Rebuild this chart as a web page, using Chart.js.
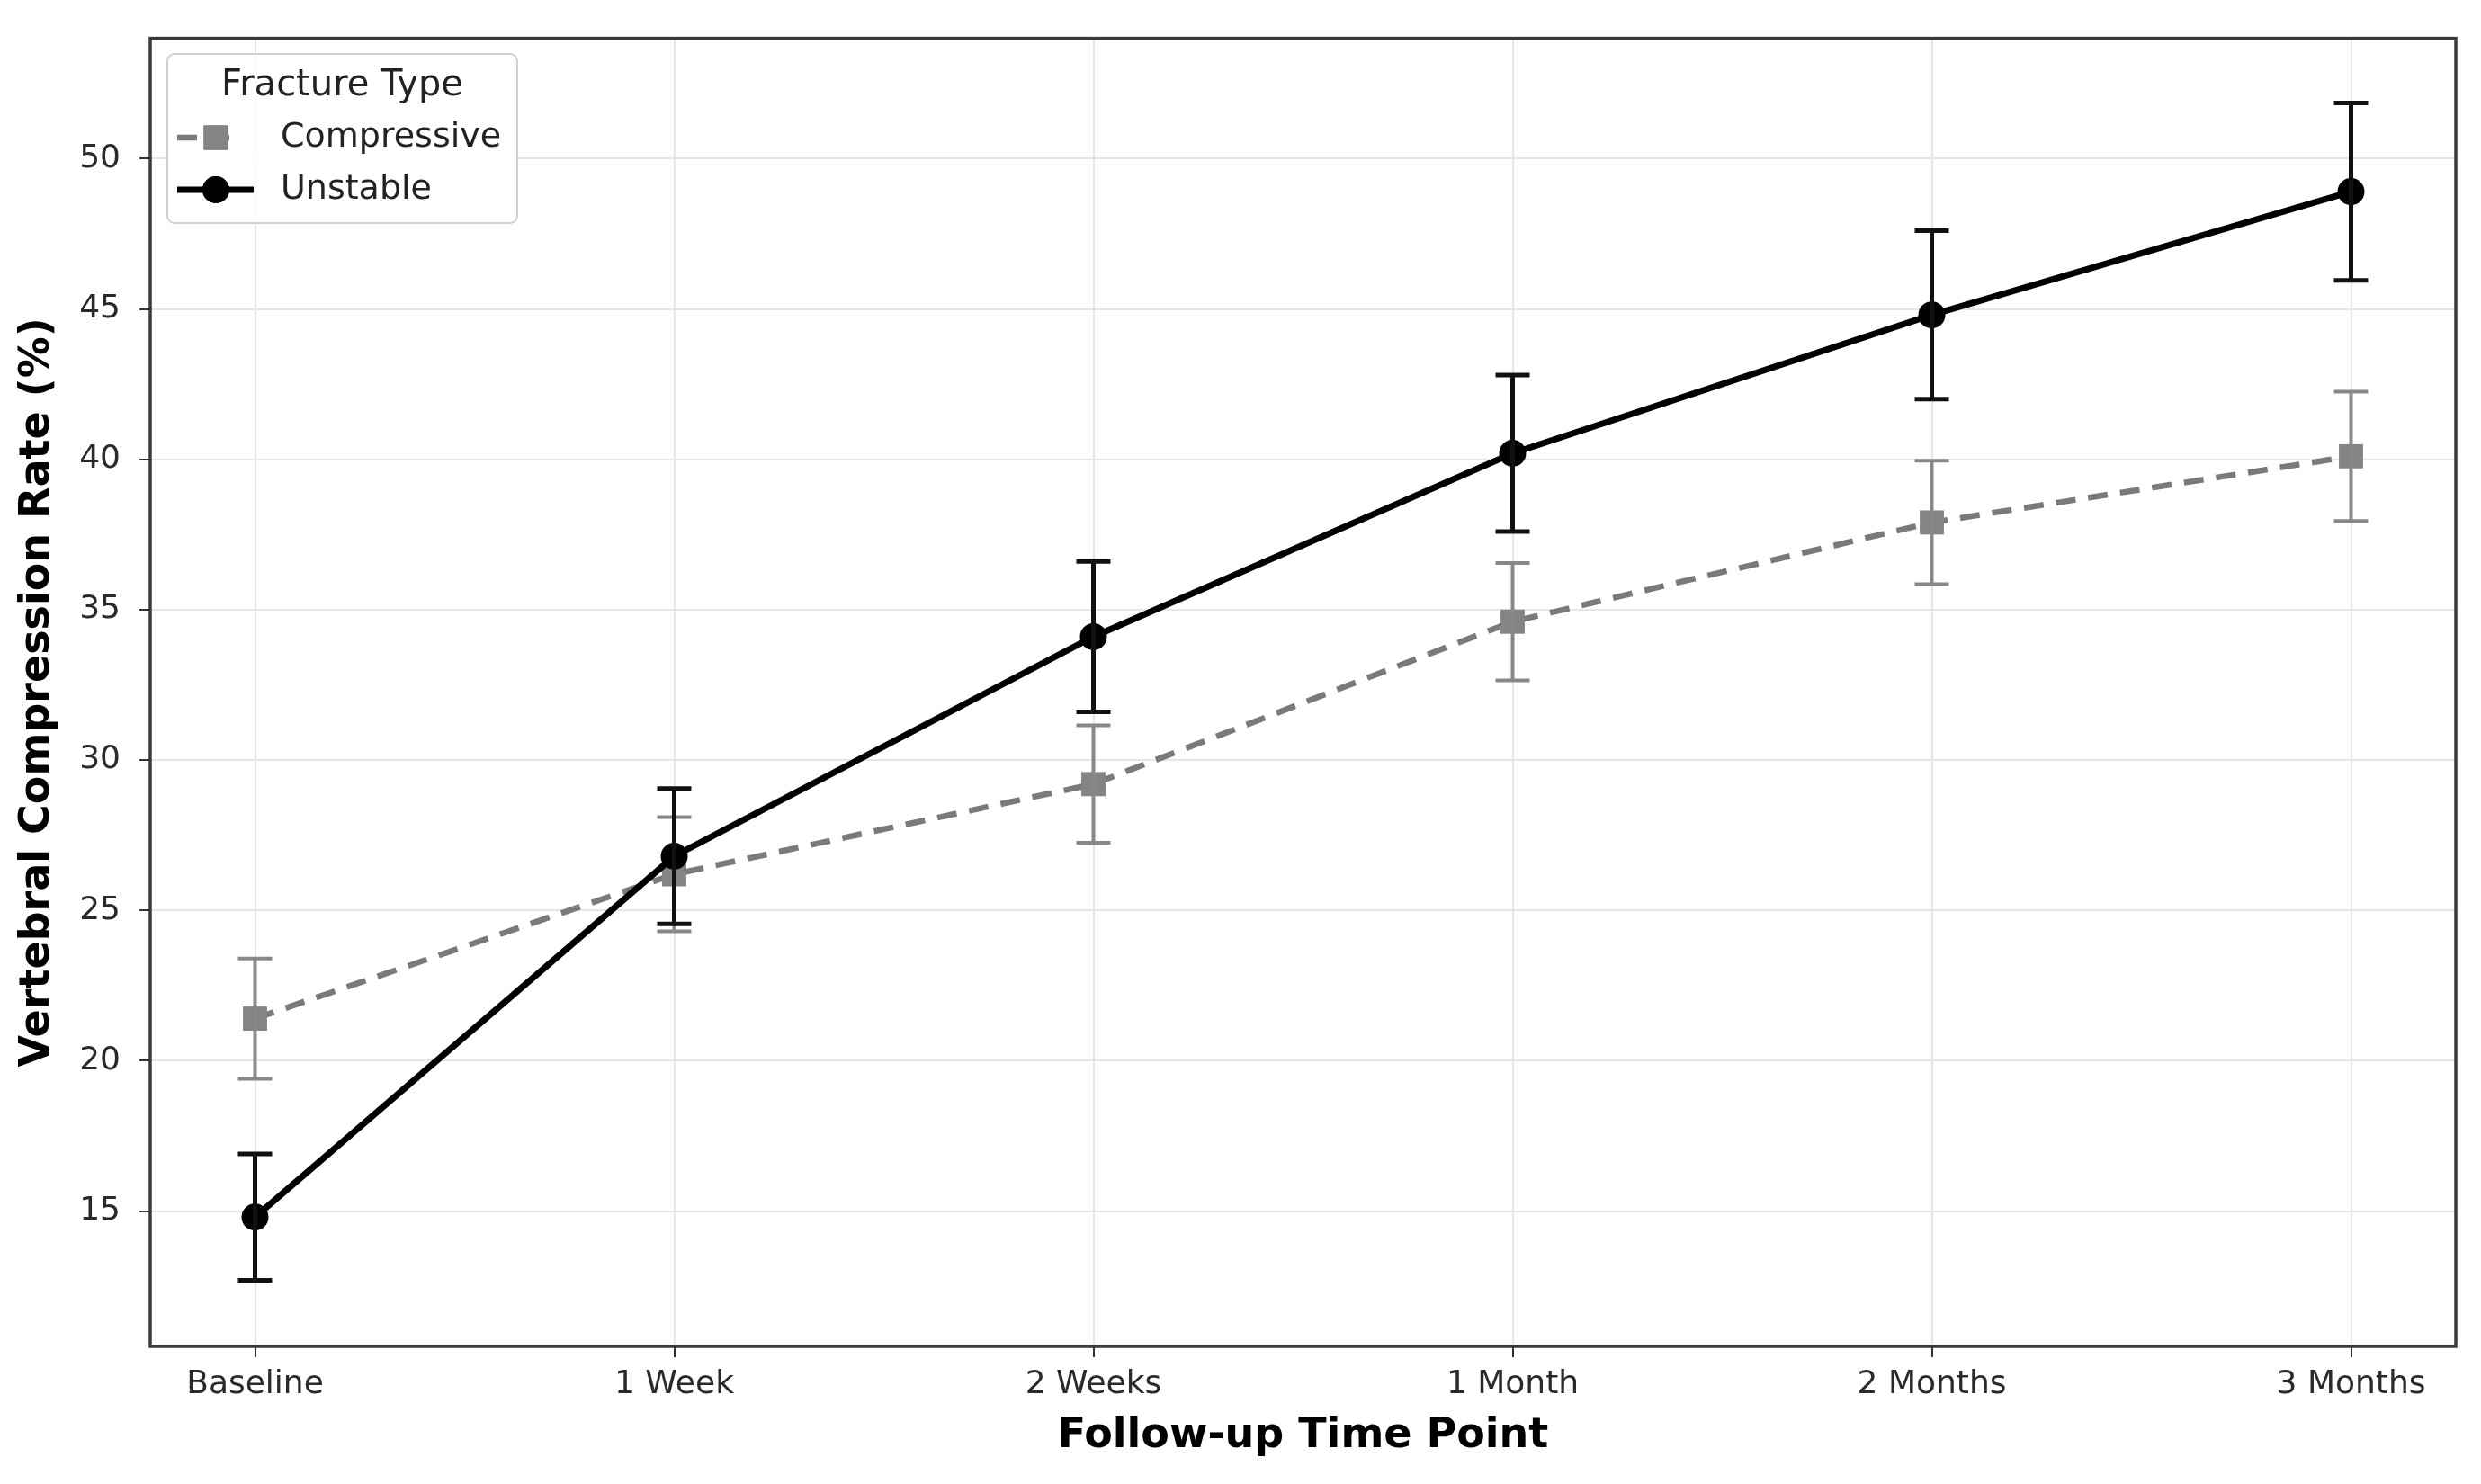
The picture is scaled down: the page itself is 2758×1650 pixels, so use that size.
<!DOCTYPE html>
<html>
<head>
<meta charset="utf-8">
<title>Vertebral Compression Rate</title>
<script src="https://cdn.jsdelivr.net/npm/chart.js@4.4.1/dist/chart.umd.min.js"></script>
<style>
  html, body { margin: 0; padding: 0; background: #fff; }
  #wrap { width: 2758px; height: 1650px; position: relative; }
</style>
</head>
<body>
<div id="wrap"><canvas id="rateChart"></canvas></div>
<script>
// 随访时间点与各组数据（均值 ± 误差）
const timePoints = ['Baseline', '1 Week', '2 Weeks', '1 Month', '2 Months', '3 Months'];
const unstableMean = [14.8, 26.8, 34.1, 40.2, 44.8, 48.9];
const unstableErr = [2.1, 2.25, 2.5, 2.6, 2.8, 2.95];
const compressiveMean = [21.4, 26.2, 29.2, 34.6, 37.9, 40.1];
const compressiveErr = [2.0, 1.9, 1.95, 1.95, 2.05, 2.15];
const yTicks = [15, 20, 25, 30, 35, 40, 45, 50];

const FONT = "'DejaVu Sans', 'Liberation Sans', sans-serif";
Chart.defaults.font.family = FONT;

const toPoints = (arr) => arr.map((v, i) => ({x: i, y: v}));

// 误差棒：每个数据集画完后紧跟着画
const errorBarPlugin = {
    id: 'errorBars',
    afterDatasetDraw(chart, args) {
        const ds = chart.data.datasets[args.index];
        if (!ds.errors) return;
        const {ctx, scales: {x, y}} = chart;
        const cap = 19;
        ctx.save();
        ctx.strokeStyle = ds.errorColor;
        ctx.lineWidth = ds.errorWidth;
        ctx.setLineDash([]);
        ds.data.forEach((p, i) => {
            const px = x.getPixelForValue(p.x);
            const top = y.getPixelForValue(p.y + ds.errors[i]);
            const bot = y.getPixelForValue(p.y - ds.errors[i]);
            ctx.beginPath();
            ctx.moveTo(px, top); ctx.lineTo(px, bot);
            ctx.moveTo(px - cap, top); ctx.lineTo(px + cap, top);
            ctx.moveTo(px - cap, bot); ctx.lineTo(px + cap, bot);
            ctx.stroke();
        });
        ctx.restore();
    }
};

// 外框
const framePlugin = {
    id: 'frame',
    afterDraw(chart) {
        const {ctx, chartArea: a} = chart;
        ctx.save();
        ctx.strokeStyle = '#3a3a3a';
        ctx.lineWidth = 3.5;
        ctx.strokeRect(a.left, a.top, a.right - a.left, a.bottom - a.top);
        ctx.restore();
    }
};

// 图例（线段 + 标记，matplotlib 风格）
const legendPlugin = {
    id: 'fractureLegend',
    afterDraw(chart) {
        const {ctx} = chart;
        const bx = 186, by = 60, bw = 389, bh = 188;
        ctx.save();
        ctx.fillStyle = 'rgba(255,255,255,0.85)';
        ctx.strokeStyle = '#d0d0d0';
        ctx.lineWidth = 2;
        ctx.beginPath();
        ctx.roundRect(bx, by, bw, bh, 8);
        ctx.fill();
        ctx.stroke();

        ctx.fillStyle = '#222';
        ctx.textBaseline = 'middle';
        ctx.textAlign = 'center';
        ctx.font = `40px ${FONT}`;
        ctx.fillText('Fracture Type', bx + bw / 2, by + 36);

        const order = [1, 0]; // Compressive, Unstable
        order.forEach((dsIndex, row) => {
            const ds = chart.data.datasets[dsIndex];
            const cy = by + 93 + row * 58;
            ctx.save();
            ctx.strokeStyle = ds.borderColor;
            ctx.lineWidth = ds.borderWidth;
            ctx.setLineDash(ds.borderDash || []);
            ctx.beginPath();
            ctx.moveTo(197, cy);
            ctx.lineTo(ds.borderDash ? 262 : 282, cy);
            ctx.stroke();
            ctx.restore();
            Chart.helpers.drawPoint(ctx, {
                pointStyle: ds.pointStyle,
                radius: ds.pointRadius,
                borderWidth: 0,
                rotation: 0
            }, 240, cy);
            ctx.fillStyle = ds.pointBackgroundColor;
            ctx.fill();
            ctx.fillStyle = '#222';
            ctx.textAlign = 'left';
            ctx.font = `38px ${FONT}`;
            ctx.fillText(ds.label, 312, cy);
        });
        ctx.restore();
    }
};

const ctx = document.getElementById('rateChart');

new Chart(ctx, {
    type: 'line',
    data: {
        datasets: [
            {
                label: 'Unstable',
                data: toPoints(unstableMean),
                errors: unstableErr,
                errorColor: '#111',
                errorWidth: 5,
                borderColor: '#000',
                borderWidth: 7,
                pointStyle: 'circle',
                pointRadius: 15,
                pointBackgroundColor: '#000',
                pointBorderWidth: 0,
                tension: 0,
                clip: false
            },
            {
                label: 'Compressive',
                data: toPoints(compressiveMean),
                errors: compressiveErr,
                errorColor: '#888',
                errorWidth: 4,
                borderColor: '#7a7a7a',
                borderWidth: 6.5,
                borderDash: [22, 14],
                pointStyle: 'rect',
                pointRadius: 19,
                pointBackgroundColor: '#848484',
                pointBorderWidth: 0,
                tension: 0,
                clip: false
            }
        ]
    },
    options: {
        responsive: true,
        maintainAspectRatio: false,
        animation: false,
        devicePixelRatio: 1,
        layout: {
            padding: {top: 39, right: 28, bottom: 0, left: 0}
        },
        plugins: {
            legend: {display: false},
            tooltip: {enabled: false}
        },
        scales: {
            x: {
                type: 'linear',
                min: -0.25,
                max: 5.25,
                afterBuildTicks: (scale) => {
                    scale.ticks = timePoints.map((_, i) => ({value: i}));
                },
                afterFit: (scale) => { scale.height = 153; },
                border: {display: false},
                grid: {
                    color: '#e6e6e6',
                    lineWidth: 2,
                    tickColor: '#333',
                    tickLength: 12,
                    tickWidth: 2
                },
                ticks: {
                    autoSkip: false,
                    maxRotation: 0,
                    padding: 9,
                    color: '#2a2a2a',
                    font: {size: 36},
                    callback: (v) => timePoints[v]
                },
                title: {
                    display: true,
                    text: 'Follow-up Time Point',
                    color: '#000',
                    font: {size: 46, weight: 'bold'},
                    padding: {top: 0, bottom: 25}
                }
            },
            y: {
                min: 10.5,
                max: 54,
                afterBuildTicks: (scale) => {
                    scale.ticks = yTicks.map(v => ({value: v}));
                },
                afterFit: (scale) => { scale.width = 167; },
                border: {display: false},
                grid: {
                    color: '#e6e6e6',
                    lineWidth: 2,
                    tickColor: '#333',
                    tickLength: 12,
                    tickWidth: 2
                },
                ticks: {
                    padding: 21,
                    color: '#2a2a2a',
                    font: {size: 36}
                },
                title: {
                    display: true,
                    text: 'Vertebral Compression Rate (%)',
                    color: '#000',
                    font: {size: 46, weight: 'bold'},
                    padding: {top: 14, bottom: 0}
                }
            }
        }
    },
    plugins: [errorBarPlugin, framePlugin, legendPlugin]
});
</script>
</body>
</html>
